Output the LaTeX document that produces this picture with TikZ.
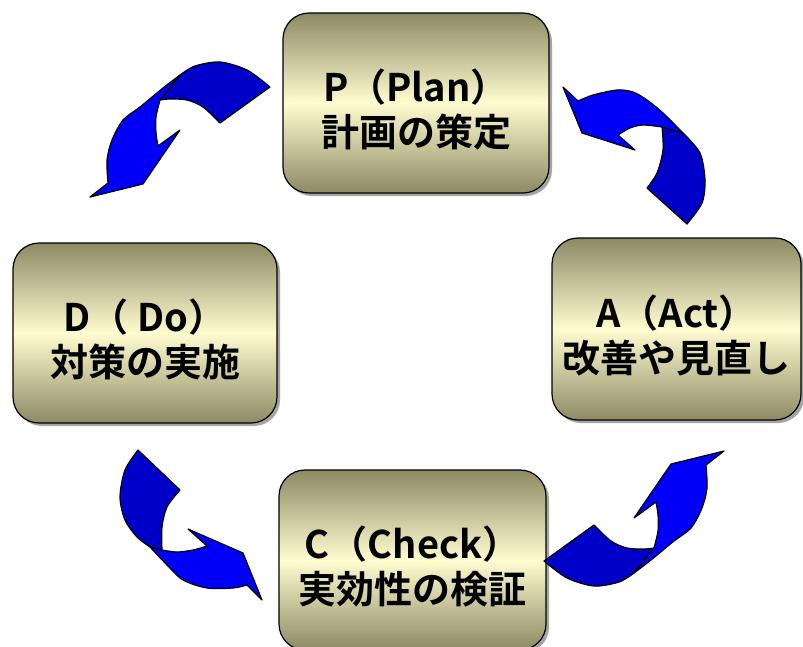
\documentclass[tikz,border=0pt]{standalone}
\usepackage{fontspec}
\usepackage{tikz}
\usetikzlibrary{shadows}
\newfontfamily\jpfont{Noto Sans CJK JP}[BoldFont={Noto Sans CJK JP Bold}]

\definecolor{boxdark}{RGB}{140,138,100}
\definecolor{boxlight}{RGB}{255,252,208}
\definecolor{arrowblue}{RGB}{0,0,250}
\definecolor{bandblue}{RGB}{0,0,200}

\newcommand{\topgap}{\rule{0pt}{45pt}}

\tikzset{
  stagebox/.style={draw=black, line width=1.2pt, rounded corners=26pt,
    top color=boxdark, bottom color=boxdark, middle color=boxlight,
    align=center, inner sep=0pt, font=\jpfont\bfseries\fontsize{38}{45}\selectfont,
    drop shadow={shadow xshift=3pt, shadow yshift=-3pt, fill=black!50, opacity=0.7}},
  backband/.style={fill=bandblue, draw=black, line width=1.2pt, line join=round},
  frontarrow/.style={fill=arrowblue, draw=black, line width=1.2pt, line join=round}
}

\begin{document}
\begin{tikzpicture}[x=1pt,y=-1pt]
  \clip (0,0) rectangle (803,646);
  \fill[white] (0,0) rectangle (803,646);
  % the four stages
  \node[stagebox, minimum width=266pt, minimum height=180pt] (plan) at (416,103) {\topgap P（Plan）\\計画の策定};
  \node[stagebox, minimum width=264pt, minimum height=180pt] (do) at (145,333) {\topgap D（ Do）\\対策の実施};
  \node[stagebox, minimum width=267pt, minimum height=180pt] (check) at (412.5,560) {\topgap C（Check）\\実効性の検証};
  \node[stagebox, minimum width=249pt, minimum height=182pt] (act) at (676.5,329) {\topgap A（Act）\\改善や見直し};
  % P -> D and C -> A (same arrow turned half round)
  \foreach \r in {0,180} {
    \begin{scope}[rotate around={\r:(407,324)}]
      \filldraw[backband] plot[smooth] coordinates {(270,87) (247,70) (220,62) (195,66) (180,75)}
        -- (160,100) -- plot[smooth] coordinates {(160,100) (170,99) (187,100) (203,107) (220,123)} -- cycle;
      \filldraw[frontarrow] plot[smooth] coordinates {(180,75) (163,88) (140,107) (123,120) (112,140) (107,160) (108,183)}
        -- (90,197) -- (143,184) -- (180,130) -- (158,146)
        -- plot[smooth] coordinates {(158,146) (156,133) (156,117) (160,100)} -- cycle;
    \end{scope}
  }
  % A -> P
  \filldraw[backband] plot[smooth] coordinates {(683,133) (700,153) (705,180) (702,203) (687,224)}
    -- (647,188) -- plot[smooth] coordinates {(647,188) (657,173) (663,150) (662,127)} -- cycle;
  \filldraw[frontarrow] plot[smooth] coordinates {(683,133) (663,113) (647,100) (633,92) (617,90) (593,95) (578,101)}
    -- (563,87) -- (582,133) -- (635,150) -- (618,135)
    -- plot[smooth] coordinates {(618,135) (630,128) (643,125) (662,127)} -- cycle;
  % D -> C
  \filldraw[backband] plot[smooth] coordinates {(138,450) (125,470) (120,497) (125,520) (137,537) (150,547)}
    -- (162,550) -- plot[smooth] coordinates {(162,550) (162,527) (167,507) (180,490)} -- cycle;
  \filldraw[frontarrow] plot[smooth] coordinates {(150,547) (167,565) (183,580) (207,588) (233,588) (247,585)}
    -- (262,600) -- (243,553) -- (188,529) -- (207,546)
    -- plot[smooth] coordinates {(207,546) (193,550) (177,552) (162,550)} -- cycle;
\end{tikzpicture}
\end{document}
